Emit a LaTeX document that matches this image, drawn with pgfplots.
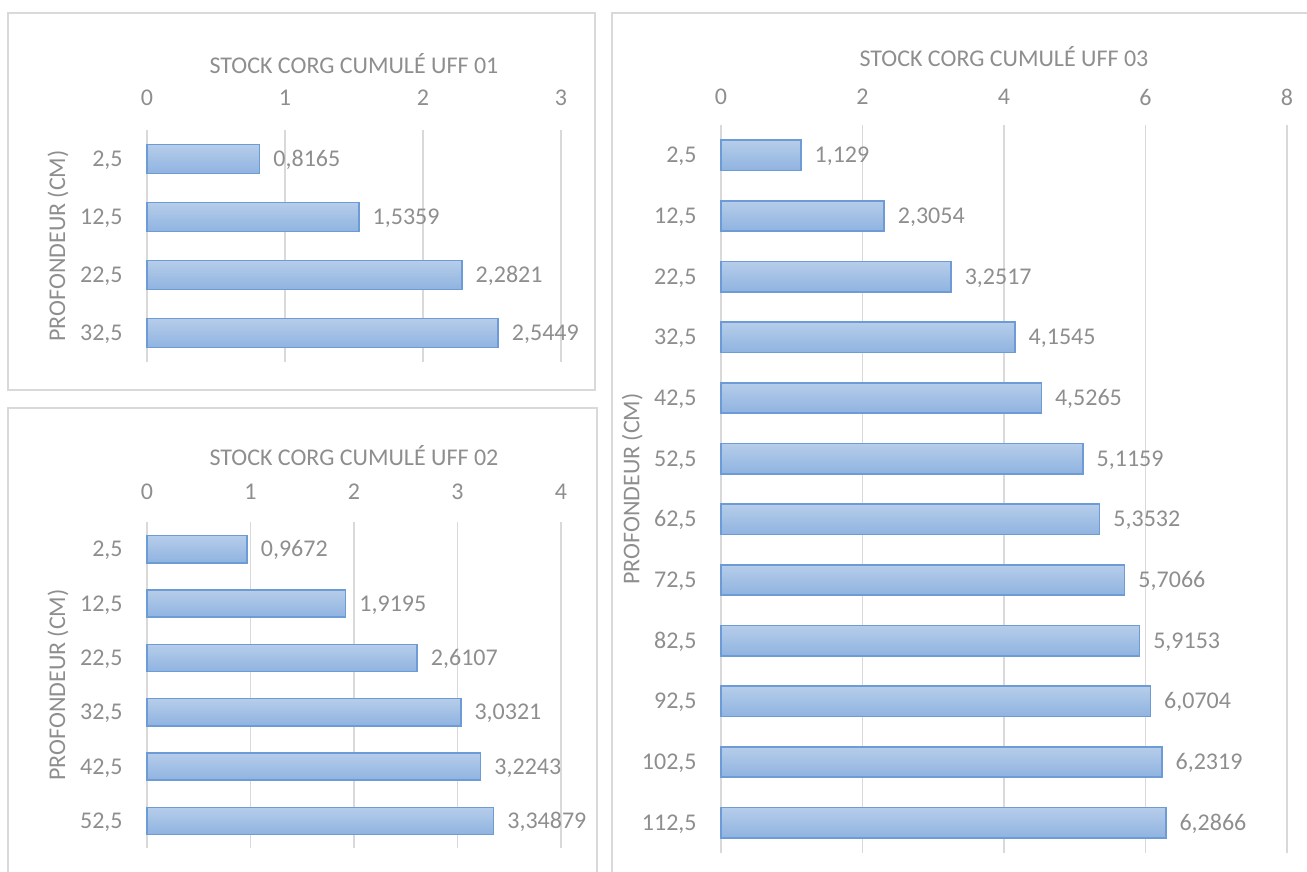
\documentclass[border=0pt]{standalone}
\usepackage{pgfplots}
\pgfplotsset{compat=1.18}
\usepackage{pgfplotstable}
\usepackage{fontspec}
\setmainfont{Carlito}
\definecolor{txt}{RGB}{142,142,142}
\definecolor{gridc}{RGB}{217,217,217}
\definecolor{bartop}{RGB}{182,205,234}
\definecolor{barbot}{RGB}{143,179,224}
\definecolor{barline}{RGB}{108,155,214}

\pgfplotstableread{
y x lab
0 0.8165 0,8165
1 1.5359 1,5359
2 2.2821 2,2821
3 2.5449 2,5449
}\dataA
\pgfplotstableread{
y x lab
0 0.9672 0,9672
1 1.9195 1,9195
2 2.6107 2,6107
3 3.0321 3,0321
4 3.2243 3,2243
5 3.34879 3,34879
}\dataB
\pgfplotstableread{
y x lab
0 1.129 1,129
1 2.3054 2,3054
2 3.2517 3,2517
3 4.1545 4,1545
4 4.5265 4,5265
5 5.1159 5,1159
6 5.3532 5,3532
7 5.7066 5,7066
8 5.9153 5,9153
9 6.0704 6,0704
10 6.2319 6,2319
11 6.2866 6,2866
}\dataC

\pgfplotsset{
 uff/.style={
  scale only axis, xbar, bar shift=0pt, bar width=0.5, y dir=reverse, enlargelimits=false,
  xmin=0, axis line style={draw=none}, major tick length=0pt,
  xmajorgrids, grid style={gridc, line width=0.75pt},
  xticklabel pos=upper,
  ylabel={PROFONDEUR (CM)},
  every tick label/.append style={txt},
  /pgf/number format/assume math mode=true,
  yticklabel style={anchor=base east, inner sep=0pt, xshift=-12pt, yshift=-3.8pt},
  label style={txt},
  every axis title/.style={txt, anchor=center},
  nodes near coords, point meta=explicit symbolic,
  every node near coord/.append style={txt, anchor=base west, inner sep=0pt, xshift=6.5pt, yshift=-3.8pt},
  clip=false,
 },
 bars/.style={draw=barline, line width=0.75pt, top color=bartop, bottom color=barbot, bar shift=0pt},
}

\begin{document}
\fontsize{12}{14}\selectfont
\begin{tikzpicture}
\useasboundingbox (0,0) rectangle (653.5pt,-436pt);
% frames
\draw[gridc, line width=0.75pt] (4pt,-6.5pt) rectangle (297.5pt,-195pt);
\draw[gridc, line width=0.75pt] (4pt,-436pt) -- (4pt,-204pt) -- (298.5pt,-204pt) -- (298.5pt,-436pt);
\draw[gridc, line width=0.75pt] (306pt,-436pt) -- (306pt,-6.5pt) -- (653.5pt,-6.5pt);

\begin{axis}[uff, at={(73.5pt,-181pt)}, anchor=south west, width=207pt, height=116pt,
  xmax=3, xtick={0,1,2,3}, ymin=-0.5, ymax=3.5, ytick={0,...,3},
  yticklabels={{2,5},{12,5},{22,5},{32,5}},
  xticklabel style={anchor=center, yshift=16pt},
  title={STOCK CORG CUMULÉ UFF 01},
  title style={at={(axis description cs:0.5,1.285)}},
  ylabel style={at={(axis description cs:-0.215,0.5)}, anchor=center}]
\pgfplotsinvokeforeach{0,...,3}{
\addplot[bars, restrict y to domain=#1:#1] table[x=x,y=y,meta=lab]{\dataA};
}
\end{axis}

\begin{axis}[uff, at={(73.5pt,-424pt)}, anchor=south west, width=207pt, height=163pt,
  xmax=4, xtick={0,1,2,3,4}, ymin=-0.5, ymax=5.5, ytick={0,...,5},
  yticklabels={{2,5},{12,5},{22,5},{32,5},{42,5},{52,5}},
  xticklabel style={anchor=center, yshift=15pt},
  title={STOCK CORG CUMULÉ UFF 02},
  title style={at={(axis description cs:0.5,1.205)}},
  ylabel style={at={(axis description cs:-0.215,0.5)}, anchor=center}]
\pgfplotsinvokeforeach{0,...,5}{
\addplot[bars, restrict y to domain=#1:#1] table[x=x,y=y,meta=lab]{\dataB};
}
\end{axis}

\begin{axis}[uff, at={(360.5pt,-426.5pt)}, anchor=south west, width=283pt, height=364pt,
  xmax=8, xtick={0,2,4,6,8}, ymin=-0.5, ymax=11.5, ytick={0,...,11},
  yticklabels={{2,5},{12,5},{22,5},{32,5},{42,5},{52,5},{62,5},{72,5},{82,5},{92,5},{102,5},{112,5}},
  xticklabel style={anchor=center, yshift=14pt},
  title={STOCK CORG CUMULÉ UFF 03},
  title style={at={(axis description cs:0.5,1.094)}},
  ylabel style={at={(axis description cs:-0.157,0.5)}, anchor=center}]
\pgfplotsinvokeforeach{0,...,11}{
\addplot[bars, restrict y to domain=#1:#1] table[x=x,y=y,meta=lab]{\dataC};
}
\end{axis}
\end{tikzpicture}
\end{document}
